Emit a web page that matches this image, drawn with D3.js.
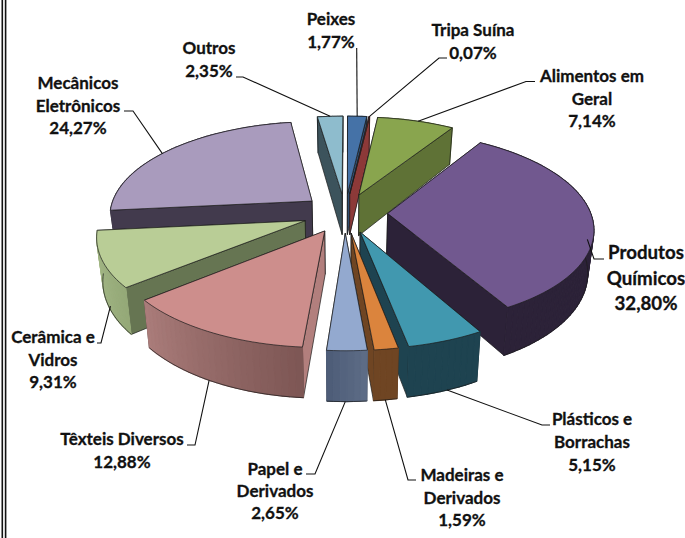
<!DOCTYPE html>
<html><head><meta charset="utf-8">
<script src="https://cdn.jsdelivr.net/npm/d3@7/dist/d3.min.js"></script>
<style>html,body{margin:0;padding:0;background:#fff;overflow:hidden}svg{display:block}</style>
</head><body><svg id="c" width="685" height="538"></svg>
<script>
// ---- data ----
const categories = [["Peixes"],["Tripa Suína"],["Alimentos em","Geral"],["Produtos","Químicos"],["Plásticos e","Borrachas"],["Madeiras e","Derivados"],["Papel e","Derivados"],["Têxteis Diversos"],["Cerâmica e","Vidros"],["Mecânicos","Eletrônicos"],["Outros"]];
const values = [1.77,0.07,7.14,32.80,5.15,1.59,2.65,12.88,9.31,24.27,2.35];
// ---- colours ----
const topColors  = ["#4572a7","#aa4643","#89a54e","#71588f","#4198af","#db843d","#93a9cf","#cd8e8c","#b9cd96","#a99bbd","#8ebccd"];
const wallStart  = ["#2f4d70","#8c3938","#5f7236","#2c2238","#1e4350","#6f4523","#4f5e7a","#b27f7d","#667552","#423a4d","#3c535c"];
const wallEnd    = ["#2f4d70","#8c3938","#5f7236","#2c2238","#1e4350","#6f4523","#4f5e7a","#7d5654","#a4b886","#423a4d","#3c535c"];
const rimFrom    = ["#2f4d70","#8c3938","#5f7236","#2c2238","#1e4350","#6f4523","#5f6d87","#7d5654","#94a878","#423a4d","#3c535c"];
const rimTo      = ["#2f4d70","#8c3938","#5f7236","#2c2238","#1e4350","#6f4523","#4c5b77","#ab7d7b","#a8bc8a","#423a4d","#3c535c"];
// ---- layout ----
const W = 685, H = 538;
const view = {cx:345, cy:213, rx:203, ry:94, persp:0.144, explode:0.21, depth:42, squeeze:0.975, start:0.15};
const labelPos = [[331,25],[473,36],[592,82],[646,259],[592,425],[462,481],[275,475],[122,445],[53,343],[78,89],[209,54]];
const labelSize = [17,17,17,18.7,17,17,17,17,17,17,17];
const lineGap = [22.5,22.5,22.7,25.5,23,22.7,22,22.7,22.5,22.5,23];
const leaderAnchor = [[.5,0],[.5,0],[.53,0],[.49,.6],[.45,1],[.5,1],[.54,1],[.53,1],[.4,.9],[.46,0],[.5,0]];
const leaderRoute = [
 [[356.7,48]], [[439,58],[447,58]], [[526,81.5],[535,81.5]], [[594,259],[604,259]],
 [[542,425],[550,425]], [[408,480],[416,480]], [[315,474],[306,474]], [[195,445],[187,445]],
 [[101,343],[97,343]], [[133,111],[124,111]], [[243,77],[236,77]]
];
const borderXs = [2.3,5.6];

// ---- projection of the tilted disc ----
const sx = d3.scaleLinear().domain([-1,1]).range([view.cx-view.rx, view.cx+view.rx]);
const sy = d3.scaleLinear().domain([-1,1]).range([view.cy-view.ry, view.cy+view.ry]);
function project(u,v,h){
  const s = 1/(1-view.persp*v);
  const k = h ? 1-(1-view.squeeze)*h : 1;
  const x = view.cx + (sx(u)-view.cx)*s*k;
  return [x, view.cy + (sy(v)-view.cy)*s + view.depth*s*h];
}
const rad = d => d*Math.PI/180;
const pie = d3.pie().sort(null).value(d=>d).startAngle(rad(view.start)).endAngle(rad(view.start)+2*Math.PI);
const arcs = pie(values);
const line = d3.line();
const svg = d3.select("#c");

const slices = arcs.map((a,i)=>{
  const mid = (a.startAngle+a.endAngle)/2;
  const ox = view.explode*Math.sin(mid), oy = -view.explode*Math.cos(mid);
  const n = Math.max(2,Math.ceil((a.endAngle-a.startAngle)/0.03));
  const rim = d3.range(n+1).map(j=>{
    const t=a.startAngle+(a.endAngle-a.startAngle)*j/n;
    return [ox+Math.sin(t), oy-Math.cos(t)];
  });
  return {i,a,mid,ox,oy,rim,apex:[ox,oy]};
});
const order = slices.slice().sort((p,q)=>(-Math.cos(p.mid))-(-Math.cos(q.mid)));
const stroke="#1b1b1b", sw=.7;

order.forEach(sl=>{
  const g = svg.append("g");
  const faces=[];
  const wall=(p,color)=>faces.push({v:(p[1]+sl.apex[1])/2, pts:[project(sl.apex[0],sl.apex[1],0),project(p[0],p[1],0),project(p[0],p[1],1),project(sl.apex[0],sl.apex[1],1)], color, edge:true});
  wall(sl.rim[0], wallStart[sl.i]);
  wall(sl.rim[sl.rim.length-1], wallEnd[sl.i]);
  const mix=d3.interpolateRgb(rimFrom[sl.i],rimTo[sl.i]);
  for(let j=0;j<sl.rim.length-1;j++){
    const p=sl.rim[j],q=sl.rim[j+1];
    faces.push({v:(p[1]+q[1])/2+.02, pts:[project(p[0],p[1],0),project(q[0],q[1],0),project(q[0],q[1],1),project(p[0],p[1],1)], color:mix((j+.5)/(sl.rim.length-1)), edge:false});
  }
  faces.sort((x,y)=>x.v-y.v);
  faces.forEach(f=>g.append("path").attr("d",line(f.pts)+"Z").attr("fill",f.color)
     .attr("stroke",f.edge?stroke:f.color).attr("stroke-width",f.edge?sw:1.1).attr("stroke-linejoin","round"));
  // lower edge of the rim, drawn only where it faces the viewer
  const low = sl.rim.filter(p=>p[1]-sl.oy> -0.05).map(p=>project(p[0],p[1],1));
  if(low.length>1) g.append("path").attr("d",line(low)).attr("fill","none").attr("stroke",stroke).attr("stroke-width",sw);
  const top=[project(sl.apex[0],sl.apex[1],0),...sl.rim.map(p=>project(p[0],p[1],0))];
  g.append("path").attr("d",line(top)+"Z").attr("fill",topColors[sl.i]).attr("stroke",stroke).attr("stroke-width",sw).attr("stroke-linejoin","round");
});

// leaders
slices.forEach(sl=>{
  const [f,h]=leaderAnchor[sl.i];
  const t=sl.a.startAngle+(sl.a.endAngle-sl.a.startAngle)*f;
  const p0=project(sl.ox+Math.sin(t),sl.oy-Math.cos(t),h);
  svg.append("path").attr("d",line([p0,...leaderRoute[sl.i]])).attr("fill","none").attr("stroke","#111").attr("stroke-width",1.1);
});

// labels
const fmt = d3.formatLocale({decimal:",",thousands:".",grouping:[3],currency:["",""]}).format(".2f");
categories.forEach((lines,i)=>{
  const t=svg.append("text").attr("text-anchor","middle").attr("font-family","Lato, 'Open Sans', sans-serif")
    .attr("font-weight",700).attr("font-size",labelSize[i]).attr("fill","#111").attr("stroke","#111").attr("stroke-width",.3);
  [...lines,fmt(values[i])+"%"].forEach((s,j)=>t.append("tspan").attr("x",labelPos[i][0]).attr("y",labelPos[i][1]+j*lineGap[i]).text(s));
});

// frame on the left
svg.selectAll("line.b").data(borderXs).join("line").attr("class","b").attr("x1",d=>d).attr("x2",d=>d).attr("y1",0).attr("y2",H).attr("stroke","#111").attr("stroke-width",1.6);
</script></body></html>
